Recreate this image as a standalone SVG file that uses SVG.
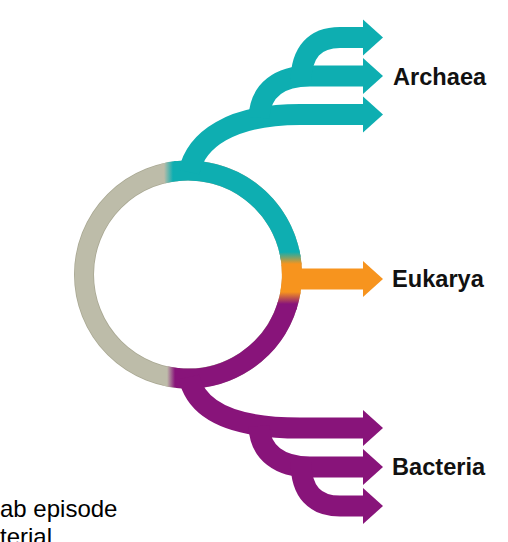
<svg xmlns="http://www.w3.org/2000/svg" width="508" height="542" viewBox="0 0 508 542">
<style>
.lbl{font-family:"Liberation Sans",Arial,sans-serif;font-weight:bold;font-size:23.6px;fill:#111}
.note{font-family:"Liberation Sans",Arial,sans-serif;font-size:24px;fill:#000}
.ring{fill:none;stroke-width:20}
.br{fill:none;stroke-width:21;stroke-linecap:butt}
.teal{stroke:#0EAEB1}
.purp{stroke:#88147A}
.orng{stroke:#F7941E}
.tealf{fill:#0EAEB1}
.purpf{fill:#88147A}
.orngf{fill:#F7941E}
</style>
<defs>
<linearGradient id="gGT" gradientUnits="userSpaceOnUse" x1="164" y1="0" x2="173" y2="0">
<stop offset="0" stop-color="#BDBCA9"/><stop offset="1" stop-color="#0EAEB1"/>
</linearGradient>
<linearGradient id="gTO" gradientUnits="userSpaceOnUse" x1="0" y1="252" x2="0" y2="264">
<stop offset="0" stop-color="#0EAEB1"/><stop offset="1" stop-color="#F7941E"/>
</linearGradient>
<linearGradient id="gOP" gradientUnits="userSpaceOnUse" x1="0" y1="292" x2="0" y2="304">
<stop offset="0" stop-color="#F7941E"/><stop offset="1" stop-color="#88147A"/>
</linearGradient>
<linearGradient id="gPG" gradientUnits="userSpaceOnUse" x1="175" y1="0" x2="167" y2="0">
<stop offset="0" stop-color="#88147A"/><stop offset="1" stop-color="#BDBCA9"/>
</linearGradient>
</defs>
<rect width="508" height="542" fill="#fff"/>
<g id="node-ring">
<circle cx="188" cy="274.5" r="104" fill="none" stroke="#A9A893" stroke-width="20"/>
<circle cx="188" cy="274.5" r="104" fill="none" stroke="#BDBCA9" stroke-width="18.4"/>
<path class="ring teal" d="M175.32 171.28 A104 104 0 0 1 290.72 258.23"/>
<path class="ring orng" d="M291.43 263.63 A104 104 0 0 1 290.42 292.56"/>
<path class="ring purp" d="M287.46 304.91 A104 104 0 0 1 177.13 377.93"/>
<path class="ring" stroke="url(#gGT)" d="M162.84 173.59 A104 104 0 0 1 177.13 171.07"/>
<path class="ring" stroke="url(#gTO)" d="M289.33 251.10 A104 104 0 0 1 291.60 265.44"/>
<path class="ring" stroke="url(#gOP)" d="M290.72 290.77 A104 104 0 0 1 286.91 306.64"/>
<path class="ring" stroke="url(#gPG)" d="M178.93 378.10 A104 104 0 0 1 164.60 375.84"/>
</g>
<g id="connectors">
<path class="br teal" d="M189 172 C196 140 230 114.5 300 114.5 L364 114.5"/>
<path class="br teal" d="M259 118 C260 90 280 76 310 76 L364 76"/>
<path class="br teal" d="M301 82 C301 52 315 37.5 340 37.5 L364 37.5"/>
<polygon class="tealf" points="363,19.5 383,37.5 363,55.5"/>
<polygon class="tealf" points="363,58 383,76 363,94"/>
<polygon class="tealf" points="363,96.5 383,114.5 363,132.5"/>
<path class="br orng" d="M285 279 L364 279"/>
<polygon class="orngf" points="363,261 383,279 363,297"/>
<path class="br purp" d="M189 377 C196 409 230 428 300 428 L364 428"/>
<path class="br purp" d="M259 426 C260 453 280 467 310 467 L364 467"/>
<path class="br purp" d="M301 462 C301 492 315 506 340 506 L364 506"/>
<polygon class="purpf" points="363,410 383,428 363,446"/>
<polygon class="purpf" points="363,449 383,467 363,485"/>
<polygon class="purpf" points="363,488 383,506 363,524"/>
</g>
<g id="node-archaea"><text class="lbl" x="393" y="85">Archaea</text></g>
<g id="node-eukarya"><text class="lbl" x="392" y="287">Eukarya</text></g>
<g id="node-bacteria"><text class="lbl" x="392" y="475">Bacteria</text></g>
<g id="caption">
<text class="note" x="0" y="517">ab episode</text>
<text class="note" x="0" y="545">terial</text>
</g>
</svg>
